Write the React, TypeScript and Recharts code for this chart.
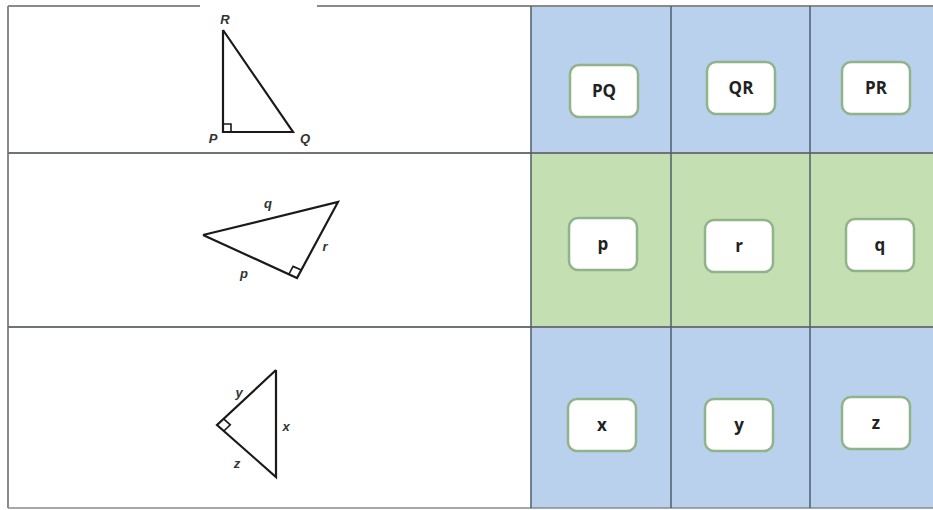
import React from 'react'
import { ComposedChart, Scatter, XAxis, YAxis, ReferenceArea, ReferenceLine } from 'recharts'

const W = 933
const H = 510

// table grid (chart units == pixels)
const colEdges = [8, 531, 671, 810, 933]
const rowEdges = [6, 153, 327, 508]
const rowFills = ['#b9d1ec', '#c4e0b3', '#b9d1ec']

// answer cards
const cardLabels = ['PQ', 'QR', 'PR', 'p', 'r', 'q', 'x', 'y', 'z']
const cardX = [604, 741, 876, 603, 739, 880, 602, 739, 876]
const cardY = [91, 88, 88, 244, 246, 245, 425, 425, 423]

// triangles (closed outlines)
const triPQR = [
  { x: 223, y: 30 },
  { x: 223, y: 132 },
  { x: 293, y: 132 },
  { x: 223, y: 30 },
]
const triPQRt = [
  { x: 203, y: 235 },
  { x: 338, y: 202 },
  { x: 297, y: 278 },
  { x: 203, y: 235 },
]
const triXYZ = [
  { x: 276, y: 370 },
  { x: 276, y: 477 },
  { x: 217, y: 425 },
  { x: 276, y: 370 },
]

// right-angle marks
const mark1 = [
  { x: 223, y: 124 },
  { x: 231, y: 124 },
  { x: 231, y: 132 },
]
const mark2 = [
  { x: 288.8, y: 274.3 },
  { x: 293.1, y: 266.4 },
  { x: 301.3, y: 270.1 },
]
const mark3 = [
  { x: 223.6, y: 418.9 },
  { x: 230.3, y: 424.8 },
  { x: 223.8, y: 431.0 },
]

// vertex / side names
const figLabels = [
  { x: 225, y: 19, text: 'R' },
  { x: 213, y: 138, text: 'P' },
  { x: 305, y: 138, text: 'Q' },
  { x: 268, y: 203, text: 'q' },
  { x: 325, y: 246, text: 'r' },
  { x: 244, y: 273, text: 'p' },
  { x: 239, y: 392, text: 'y' },
  { x: 286, y: 426, text: 'x' },
  { x: 237, y: 463, text: 'z' },
]

const noDot = () => <g />

const Card = (props: any) => {
  const { x, y, width, height } = props
  return (
    <rect x={x} y={y} width={width} height={height} rx={9} ry={9}
      fill="#ffffff" stroke="#91b38a" strokeWidth={2.5} />
  )
}

const FigText = (props: any) => (
  <text x={props.cx} y={props.cy} textAnchor="middle" dominantBaseline="central"
    fontFamily="Liberation Sans, Arial, sans-serif" fontStyle="italic" fontWeight="bold"
    fontSize={13} fill="#333">
    {props.payload.text}
  </text>
)

export default function App() {
  const lineStyle = { stroke: '#1a1a1a', strokeWidth: 2.2 }
  const thin = { stroke: '#1a1a1a', strokeWidth: 1.6 }
  return (
    <div style={{ position: 'absolute', left: 0, top: 0, width: W, height: H, background: '#fff' }}>
      <ComposedChart width={W} height={H} margin={{ top: 0, right: 0, bottom: 0, left: 0 }}>
        <XAxis type="number" dataKey="x" domain={[0, W]} hide allowDataOverflow />
        <YAxis type="number" dataKey="y" domain={[0, H]} reversed hide allowDataOverflow width={0} />

        {rowFills.map((fill, r) =>
          colEdges.slice(1, -1).map((cx, c) => (
            <ReferenceArea key={`cell-${r}-${c}`} x1={cx} x2={colEdges[c + 2]}
              y1={rowEdges[r]} y2={rowEdges[r + 1]} fill={fill} fillOpacity={1} stroke="none" />
          ))
        )}

        {/* outer border and grid */}
        <ReferenceLine segment={[{ x: colEdges[0], y: rowEdges[0] }, { x: 200, y: rowEdges[0] }]} stroke="#8a8a8a" strokeWidth={2} />
        <ReferenceLine segment={[{ x: 317, y: rowEdges[0] }, { x: W, y: rowEdges[0] }]} stroke="#8a8a8a" strokeWidth={2} />
        <ReferenceLine segment={[{ x: colEdges[0], y: rowEdges[0] }, { x: colEdges[0], y: rowEdges[3] }]} stroke="#8a8a8a" strokeWidth={2} />
        <ReferenceLine segment={[{ x: colEdges[0], y: rowEdges[3] }, { x: W, y: rowEdges[3] }]} stroke="#8a8a8a" strokeWidth={1.5} />
        {rowEdges.slice(1, -1).map((ry) => (
          <ReferenceLine key={`row-${ry}`} segment={[{ x: colEdges[0], y: ry }, { x: W, y: ry }]} stroke="#6f7277" strokeWidth={2} />
        ))}
        {colEdges.slice(1, -1).map((cx) => (
          <ReferenceLine key={`col-${cx}`} segment={[{ x: cx, y: rowEdges[0] }, { x: cx, y: rowEdges[3] }]} stroke="#4f5d6c" strokeWidth={1.5} />
        ))}

        {cardLabels.map((label, i) => (
          <ReferenceArea key={`card-${label}`} x1={cardX[i] - 34} x2={cardX[i] + 34}
            y1={cardY[i] - 26} y2={cardY[i] + 26} shape={<Card />}
            label={{
              value: label, position: 'center', fill: '#222', fontSize: 17, fontWeight: 'bold',
              fontFamily: 'Open Sans, sans-serif',
            }} />
        ))}

        <Scatter data={triPQR} line={lineStyle} lineType="joint" shape={noDot} isAnimationActive={false} />
        <Scatter data={triPQRt} line={lineStyle} lineType="joint" shape={noDot} isAnimationActive={false} />
        <Scatter data={triXYZ} line={lineStyle} lineType="joint" shape={noDot} isAnimationActive={false} />
        <Scatter data={mark1} line={thin} lineType="joint" shape={noDot} isAnimationActive={false} />
        <Scatter data={mark2} line={thin} lineType="joint" shape={noDot} isAnimationActive={false} />
        <Scatter data={mark3} line={thin} lineType="joint" shape={noDot} isAnimationActive={false} />
        <Scatter data={figLabels} shape={FigText} isAnimationActive={false} />
      </ComposedChart>
    </div>
  )
}
